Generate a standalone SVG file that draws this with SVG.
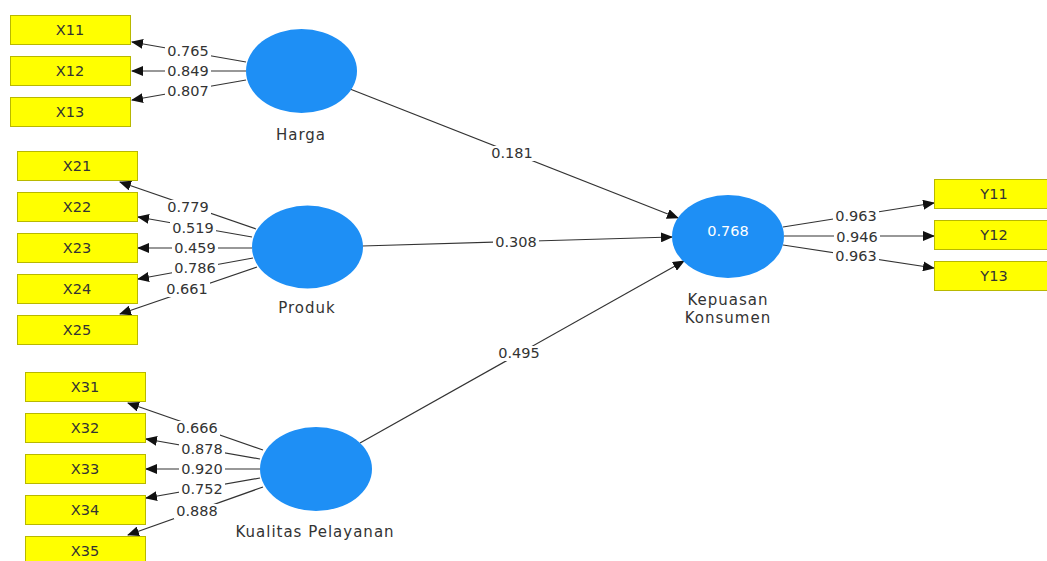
<svg xmlns="http://www.w3.org/2000/svg" width="1047" height="561" viewBox="0 0 1047 561">
  <defs>
    <marker id="arrow" viewBox="0 0 12 10" refX="11" refY="5" markerWidth="12" markerHeight="10" markerUnits="userSpaceOnUse" orient="auto">
      <path d="M0,0 L12,5 L0,10 z" fill="#111"/>
    </marker>
    <style>
      .ind rect { fill: #ffff00; stroke: #b8b800; stroke-width: 1; }
      .ind text { font-family: "DejaVu Sans", Verdana, sans-serif; font-size: 14.5px; fill: #333; text-anchor: middle; }
      .lat ellipse { fill: #1e8ff5; }
      .lat text { font-family: "DejaVu Sans", Verdana, sans-serif; font-size: 15px; letter-spacing: 1px; fill: #333; text-anchor: middle; }
      .lat text.r2 { fill: #ffffff; font-size: 14.5px; letter-spacing: 0; }
      #connectors line { stroke: #333; stroke-width: 1.2; fill: none; marker-end: url(#arrow); }
      #connectors rect { fill: #fff; }
      #connectors text { font-family: "DejaVu Sans", Verdana, sans-serif; font-size: 14.5px; fill: #333; text-anchor: middle; }
    </style>
  </defs>
  <rect width="1047" height="561" fill="#fff"/>

  <g id="connectors">
    <!-- Harga loadings -->
    <line x1="246" y1="62" x2="132" y2="42"/>
    <line x1="246" y1="71" x2="132" y2="71"/>
    <line x1="246" y1="80" x2="132" y2="100"/>
    <!-- Produk loadings -->
    <line x1="256" y1="229" x2="120" y2="182"/>
    <line x1="252" y1="237" x2="138" y2="217"/>
    <line x1="252" y1="248" x2="138" y2="248"/>
    <line x1="253" y1="258" x2="138" y2="279"/>
    <line x1="257" y1="267" x2="120" y2="314"/>
    <!-- Kualitas Pelayanan loadings -->
    <line x1="263" y1="450" x2="128" y2="403"/>
    <line x1="260" y1="459" x2="146" y2="439"/>
    <line x1="260" y1="469" x2="146" y2="469"/>
    <line x1="260" y1="478" x2="146" y2="498"/>
    <line x1="263" y1="487" x2="128" y2="535"/>
    <!-- Kepuasan Konsumen loadings -->
    <line x1="783" y1="227" x2="934" y2="203"/>
    <line x1="784" y1="236" x2="934" y2="236"/>
    <line x1="783" y1="245" x2="934" y2="268"/>
    <!-- Path coefficients -->
    <line x1="350" y1="89" x2="678" y2="218"/>
    <line x1="362" y1="246" x2="672" y2="237"/>
    <line x1="360" y1="443" x2="684" y2="261"/>

    <!-- label plates: each sits 12px above the baseline, 46x15 -->
    <rect x="165" y="44" width="46" height="15"/><text x="188" y="56">0.765</text>
    <rect x="165" y="64" width="46" height="15"/><text x="188" y="76">0.849</text>
    <rect x="165" y="84" width="46" height="15"/><text x="188" y="96">0.807</text>

    <rect x="165" y="200" width="46" height="15"/><text x="188" y="212">0.779</text>
    <rect x="170" y="221" width="46" height="15"/><text x="193" y="233">0.519</text>
    <rect x="172" y="241" width="46" height="15"/><text x="195" y="253">0.459</text>
    <rect x="172" y="261" width="46" height="15"/><text x="195" y="273">0.786</text>
    <rect x="164" y="282" width="46" height="15"/><text x="187" y="294">0.661</text>

    <rect x="174" y="421" width="46" height="15"/><text x="197" y="433">0.666</text>
    <rect x="179" y="442" width="46" height="15"/><text x="202" y="454">0.878</text>
    <rect x="179" y="462" width="46" height="15"/><text x="202" y="474">0.920</text>
    <rect x="179" y="482" width="46" height="15"/><text x="202" y="494">0.752</text>
    <rect x="174" y="504" width="46" height="15"/><text x="197" y="516">0.888</text>

    <rect x="833" y="209" width="46" height="15"/><text x="856" y="221">0.963</text>
    <rect x="834" y="230" width="46" height="15"/><text x="857" y="242">0.946</text>
    <rect x="833" y="249" width="46" height="15"/><text x="856" y="261">0.963</text>

    <rect x="489" y="146" width="46" height="15"/><text x="512" y="158">0.181</text>
    <rect x="493" y="235" width="46" height="15"/><text x="516" y="247">0.308</text>
    <rect x="496" y="346" width="46" height="15"/><text x="519" y="358">0.495</text>
  </g>

  <!-- Latent variables -->
  <g id="harga" class="lat">
    <ellipse cx="301.5" cy="71" rx="55.5" ry="42"/>
    <text x="301" y="140">Harga</text>
  </g>
  <g id="produk" class="lat">
    <ellipse cx="307.5" cy="247" rx="55.5" ry="41.5"/>
    <text x="307" y="313">Produk</text>
  </g>
  <g id="kualitas-pelayanan" class="lat">
    <ellipse cx="316" cy="469" rx="56" ry="42"/>
    <text x="315" y="537">Kualitas Pelayanan</text>
  </g>
  <g id="kepuasan-konsumen" class="lat">
    <ellipse cx="728" cy="236.5" rx="56" ry="41.5"/>
    <text class="r2" x="728" y="236">0.768</text>
    <text x="728" y="305">Kepuasan</text>
    <text x="728" y="323">Konsumen</text>
  </g>

  <!-- Indicators -->
  <g id="x11" class="ind"><rect x="10.5" y="15.5" width="120" height="29"/><text x="70" y="35">X11</text></g>
  <g id="x12" class="ind"><rect x="10.5" y="56.5" width="120" height="29"/><text x="70" y="76">X12</text></g>
  <g id="x13" class="ind"><rect x="10.5" y="97.5" width="120" height="29"/><text x="70" y="117">X13</text></g>

  <g id="x21" class="ind"><rect x="17.5" y="151.5" width="120" height="29"/><text x="77" y="171">X21</text></g>
  <g id="x22" class="ind"><rect x="17.5" y="192.5" width="120" height="29"/><text x="77" y="212">X22</text></g>
  <g id="x23" class="ind"><rect x="17.5" y="233.5" width="120" height="29"/><text x="77" y="253">X23</text></g>
  <g id="x24" class="ind"><rect x="17.5" y="274.5" width="120" height="29"/><text x="77" y="294">X24</text></g>
  <g id="x25" class="ind"><rect x="17.5" y="315.5" width="120" height="29"/><text x="77" y="335">X25</text></g>

  <g id="x31" class="ind"><rect x="25.5" y="372.5" width="120" height="29"/><text x="85" y="392">X31</text></g>
  <g id="x32" class="ind"><rect x="25.5" y="413.5" width="120" height="29"/><text x="85" y="433">X32</text></g>
  <g id="x33" class="ind"><rect x="25.5" y="454.5" width="120" height="29"/><text x="85" y="474">X33</text></g>
  <g id="x34" class="ind"><rect x="25.5" y="495.5" width="120" height="29"/><text x="85" y="515">X34</text></g>
  <g id="x35" class="ind"><rect x="25.5" y="536.5" width="120" height="29"/><text x="85" y="556">X35</text></g>

  <g id="y11" class="ind"><rect x="934.5" y="179.5" width="120" height="29"/><text x="994" y="199">Y11</text></g>
  <g id="y12" class="ind"><rect x="934.5" y="220.5" width="120" height="29"/><text x="994" y="240">Y12</text></g>
  <g id="y13" class="ind"><rect x="934.5" y="261.5" width="120" height="29"/><text x="994" y="281">Y13</text></g>
</svg>
